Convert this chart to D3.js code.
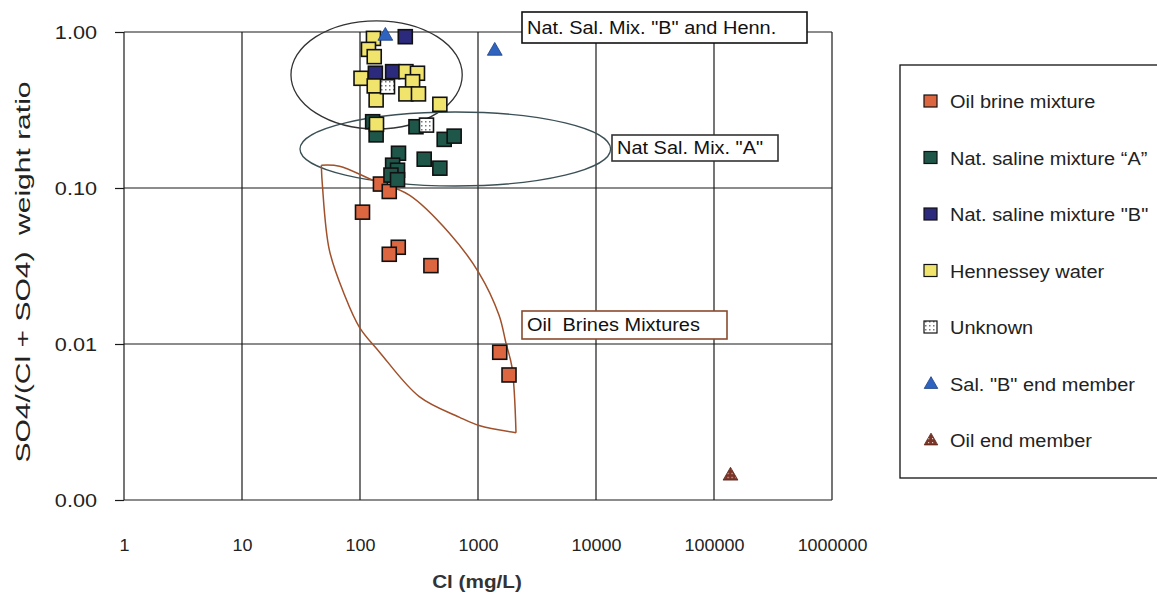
<!DOCTYPE html>
<html>
<head>
<meta charset="utf-8">
<script src="https://cdn.jsdelivr.net/npm/d3@7"></script>
<style>
  html, body { margin: 0; padding: 0; background: #fff; }
  svg { display: block; font-family: Arial, "Liberation Sans", sans-serif; }
  svg text { white-space: pre; }
</style>
</head>
<body>
<svg id="chart" width="1157" height="597"></svg>
<script>
// Sample groups: chloride (mg/L) and SO4/(Cl+SO4) weight ratio
const oilBrineCl    = [149, 177, 105, 211, 177, 399, 1528, 1832];
const oilBrineRatio = [0.106, 0.095, 0.070, 0.0417, 0.0376, 0.0318, 0.00885, 0.00633];

const natSalACl    = [128, 137, 298, 517, 628, 212, 189, 208, 183, 208, 350, 475];
const natSalARatio = [0.266, 0.219, 0.247, 0.205, 0.215, 0.167, 0.140, 0.130, 0.121, 0.113, 0.153, 0.134];

const natSalBCl    = [242, 135, 189];
const natSalBRatio = [0.933, 0.544, 0.557];

const hennesseyCl    = [130, 118, 132, 102, 245, 307, 279, 132, 137, 245, 313, 475, 138];
const hennesseyRatio = [0.91, 0.774, 0.695, 0.505, 0.557, 0.544, 0.480, 0.451, 0.367, 0.401, 0.401, 0.344, 0.256];

const unknownCl    = [171, 366];
const unknownRatio = [0.446, 0.253];

const salBEndCl    = [164, 1387];
const salBEndRatio = [0.957, 0.767];

const oilEndCl    = [138000];
const oilEndRatio = [0.00145];

// Axis ticks
const xTicks = [1, 10, 100, 1000, 10000, 100000, 1000000];
const yTicks = [1, 0.1, 0.01, 0.001];

// Field outlines (Cl extent, ratio extent)
const mixBClRange = [26, 735];
const mixBRatioRange = [0.239, 1.18];
const mixAClRange = [31, 13300];
const mixARatioRange = [0.103, 0.307];

// Oil brine field: upper/right and lower/left boundaries
const oilFieldUpper = [[47, 0.140], [67, 0.138], [127, 0.1125], [262, 0.090], [570, 0.0515],
                       [1021, 0.0285], [1508, 0.0153], [1728, 0.0101], [1941, 0.0071], [2099, 0.0027]];
const oilFieldLower = [[47, 0.140], [48, 0.1045], [55, 0.040], [74, 0.0206], [99, 0.0128],
                       [146, 0.0089], [318, 0.0046], [692, 0.0034], [1021, 0.0030], [2099, 0.0027]];

const legendLabels = ["Oil brine mixture", "Nat. saline mixture \u201CA\u201D", "Nat. saline mixture \"B\"",
                      "Hennessey water", "Unknown", "Sal. \"B\" end member", "Oil end member"];

const svg = d3.select("#chart");
const x = d3.scaleLog().domain([1, 1000000]).range([124, 832]);
const y = d3.scaleLog().domain([0.001, 1]).range([500, 32]);

// Stretch text horizontally by a factor, keeping its anchor
function widen(sel, factor) {
  sel.each(function () {
    const w = this.getComputedTextLength();
    d3.select(this).attr("textLength", w * factor).attr("lengthAdjust", "spacingAndGlyphs");
  });
}

// Patterns
const defs = svg.append("defs");
const pUnk = defs.append("pattern").attr("id", "dots").attr("patternUnits", "userSpaceOnUse")
  .attr("width", 4).attr("height", 4);
pUnk.append("rect").attr("width", 4).attr("height", 4).attr("fill", "#fff");
pUnk.append("rect").attr("x", 1).attr("y", 1).attr("width", 1.5).attr("height", 1.5).attr("fill", "#777");
const pOil = defs.append("pattern").attr("id", "oilend").attr("patternUnits", "userSpaceOnUse")
  .attr("width", 4).attr("height", 4);
pOil.append("rect").attr("width", 4).attr("height", 4).attr("fill", "#7a3528");
pOil.append("rect").attr("x", 1).attr("y", 1).attr("width", 1.2).attr("height", 1.2).attr("fill", "#e8c8bc");

// Grid
const gridColor = "#1a1a1a";
svg.append("g").selectAll("line").data(xTicks).join("line")
  .attr("x1", d => x(d)).attr("x2", d => x(d))
  .attr("y1", y(1)).attr("y2", y(0.001))
  .attr("stroke", gridColor).attr("stroke-width", 1.2);
svg.append("g").selectAll("line").data(yTicks).join("line")
  .attr("x1", x(1)).attr("x2", x(1000000))
  .attr("y1", d => y(d)).attr("y2", d => y(d))
  .attr("stroke", gridColor).attr("stroke-width", 1.2);

// Axes
const yAxis = svg.append("g").attr("transform", `translate(${x(1)},0)`)
  .call(d3.axisLeft(y).tickValues(yTicks).tickFormat(d3.format(".2f")).tickSize(9).tickPadding(18));
yAxis.select(".domain").remove();
yAxis.selectAll("line").attr("stroke", gridColor).attr("stroke-width", 1.2);
yAxis.selectAll("text").attr("font-size", 19).attr("fill", "#222")
  .attr("font-family", "Arial, 'Liberation Sans', sans-serif").call(widen, 1.14);

const xAxis = svg.append("g").attr("transform", `translate(0,${y(0.001)})`)
  .call(d3.axisBottom(x).tickValues(xTicks).tickFormat(d3.format("d")).tickSize(0).tickPadding(40));
xAxis.select(".domain").remove();
xAxis.selectAll("text").attr("font-size", 16).attr("fill", "#222")
  .attr("font-family", "Arial, 'Liberation Sans', sans-serif").call(widen, 1.12);

// Field outlines
function ellipseFromRanges(cr, rr) {
  const cx = (x(cr[0]) + x(cr[1])) / 2, cy = (y(rr[0]) + y(rr[1])) / 2;
  return { cx, cy, rx: Math.abs(x(cr[1]) - x(cr[0])) / 2, ry: Math.abs(y(rr[1]) - y(rr[0])) / 2 };
}
const eB = ellipseFromRanges(mixBClRange, mixBRatioRange);
svg.append("ellipse").attr("cx", eB.cx).attr("cy", eB.cy).attr("rx", eB.rx).attr("ry", eB.ry)
  .attr("fill", "none").attr("stroke", "#333").attr("stroke-width", 1.3);
const eA = ellipseFromRanges(mixAClRange, mixARatioRange);
svg.append("ellipse").attr("cx", eA.cx).attr("cy", eA.cy).attr("rx", eA.rx).attr("ry", eA.ry)
  .attr("fill", "none").attr("stroke", "#3b5055").attr("stroke-width", 1.3);

const fieldLine = d3.line().x(d => x(d[0])).y(d => y(d[1])).curve(d3.curveCatmullRom.alpha(0.5));
[oilFieldUpper, oilFieldLower].forEach(pts => {
  svg.append("path").attr("d", fieldLine(pts)).attr("fill", "none")
    .attr("stroke", "#a0502a").attr("stroke-width", 1.5);
});

// Markers
const sq = 14;
function squares(cl, ratio, fill) {
  svg.append("g").selectAll("rect").data(d3.zip(cl, ratio)).join("rect")
    .attr("x", d => x(d[0]) - sq / 2).attr("y", d => y(d[1]) - sq / 2)
    .attr("width", sq).attr("height", sq)
    .attr("fill", fill).attr("stroke", "#111").attr("stroke-width", 1.6);
}
const tri = d3.symbol().type(d3.symbolTriangle).size(95);
function triangles(cl, ratio, fill, stroke) {
  svg.append("g").selectAll("path").data(d3.zip(cl, ratio)).join("path")
    .attr("transform", d => `translate(${x(d[0])},${y(d[1]) + 1})`)
    .attr("d", tri).attr("fill", fill).attr("stroke", stroke).attr("stroke-width", 0.8);
}

const colors = {
  oil: "#dc6640", natA: "#1e5749", natB: "#2b2a7c", hen: "#f1e46c", unk: "url(#dots)",
  salB: "#2f63c0", oilEnd: "url(#oilend)"
};

squares(oilBrineCl, oilBrineRatio, colors.oil);
squares(natSalACl, natSalARatio, colors.natA);
squares(natSalBCl, natSalBRatio, colors.natB);
squares(hennesseyCl, hennesseyRatio, colors.hen);
squares(unknownCl, unknownRatio, colors.unk);
triangles(salBEndCl, salBEndRatio, colors.salB, "#1d3f80");
triangles(oilEndCl, oilEndRatio, colors.oilEnd, "#5a2419");

// Field labels
function labelBox(text, x0, y0, w, h, stroke) {
  const g = svg.append("g");
  g.append("rect").attr("x", x0).attr("y", y0).attr("width", w).attr("height", h)
    .attr("fill", "#fff").attr("stroke", stroke).attr("stroke-width", 1.6);
  g.append("text").attr("x", x0 + 5).attr("y", y0 + h / 2 + 6).attr("font-size", 17.5)
    .attr("fill", "#111").text(text).call(widen, 1.14);
}
labelBox("Nat. Sal. Mix. \"B\" and Henn.", 522, 12, 285, 31, "#111");
labelBox("Nat Sal. Mix. \"A\"", 612, 135, 166, 26, "#333");
labelBox("Oil  Brines Mixtures", 522, 311, 205, 28, "#8a4a2e");

// Axis titles
svg.append("text").attr("transform", "translate(30,272) rotate(-90)")
  .attr("text-anchor", "middle").attr("font-size", 20).attr("fill", "#222")
  .text("SO4/(Cl + SO4)  weight ratio").call(widen, 1.5);
svg.append("text").attr("x", 477).attr("y", 588).attr("text-anchor", "middle")
  .attr("font-size", 18).attr("font-weight", "bold").attr("fill", "#333")
  .text("Cl (mg/L)").call(widen, 1.15);

// Legend
const lg = svg.append("g");
lg.append("rect").attr("x", 900).attr("y", 65).attr("width", 262).attr("height", 413)
  .attr("fill", "#fff").attr("stroke", "#111").attr("stroke-width", 1.3);
const legendFill = [colors.oil, colors.natA, colors.natB, colors.hen, colors.unk, colors.salB, colors.oilEnd];
const legendY = d3.scalePoint().domain(d3.range(7)).range([102, 441]);
legendLabels.forEach((lab, i) => {
  const cy = legendY(i);
  if (i < 5) {
    lg.append("rect").attr("x", 924).attr("y", cy - 7).attr("width", 13).attr("height", 12)
      .attr("fill", legendFill[i]).attr("stroke", "#111").attr("stroke-width", 1.2);
  } else {
    lg.append("path").attr("transform", `translate(931,${cy})`)
      .attr("d", d3.symbol().type(d3.symbolTriangle).size(80))
      .attr("fill", legendFill[i]).attr("stroke", i === 5 ? "#1d3f80" : "#5a2419").attr("stroke-width", 0.8);
  }
  lg.append("text").attr("x", 950).attr("y", cy + 6).attr("font-size", 17.5).attr("fill", "#222")
    .text(lab).call(widen, 1.14);
});
</script>
</body>
</html>
